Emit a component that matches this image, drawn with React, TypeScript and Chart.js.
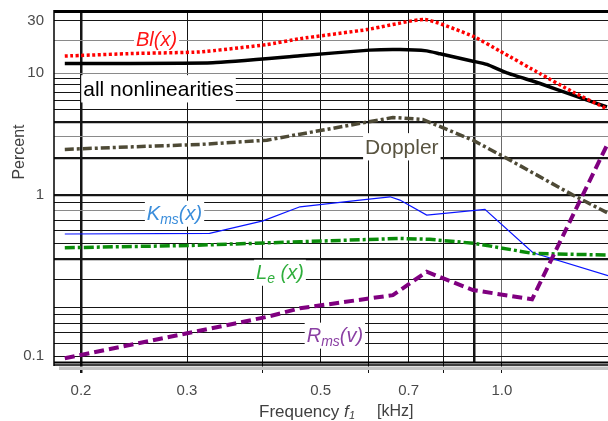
import React, { useEffect, useRef } from 'react';
import { Chart, registerables, LogarithmicScale } from 'chart.js';

// ---------------- data ----------------
const X_GRID_VALUES = [0.2, 0.3, 0.4, 0.5, 0.6, 0.7, 0.8, 0.9, 1.0];
const X_TICK_LABELS = ['0.2', '0.3', '0.5', '0.7', '1.0'];
const Y_GRID_VALUES = [0.1, 0.12, 0.14, 0.16, 0.18, 0.2, 0.3, 0.4, 0.5, 0.6, 0.7, 0.8, 0.9,
  1, 2, 3, 4, 5, 6, 7, 8, 9, 10, 20, 30];
const Y_TICK_LABELS = ['0.1', '1', '10', '30'];

// Bl(x)
const BL_FREQ = [0.188, 0.244, 0.315, 0.407, 0.462, 0.597, 0.745, 0.895, 0.992, 1.157, 1.312, 1.494];
const BL_PCT = [14.3, 15.1, 15.6, 18.2, 20.6, 24.9, 30.8, 21.7, 15.9, 9.9, 7.0, 5.1];
// all nonlinearities
const ALL_FREQ = [0.188, 0.331, 0.462, 0.603, 0.677, 0.750, 0.789, 0.895, 0.944, 1.019, 1.157, 1.312, 1.494];
const ALL_PCT = [12.25, 12.46, 14.4, 16.2, 16.4, 15.95, 15.0, 12.85, 12.0, 10.06, 8.23, 6.6, 5.29];
// Doppler
const DOP_FREQ = [0.188, 0.244, 0.315, 0.407, 0.462, 0.659, 0.739, 0.895, 1.019, 1.312, 1.5];
const DOP_PCT = [2.37, 2.49, 2.60, 2.82, 3.16, 4.33, 4.17, 2.82, 2.0, 1.0, 0.773];
// Kms(x)
const KMS_FREQ = [0.188, 0.327, 0.401, 0.462, 0.581, 0.652, 0.677, 0.750, 0.937, 1.126, 1.5];
const KMS_PCT = [0.573, 0.578, 0.692, 0.846, 0.931, 0.976, 0.931, 0.751, 0.815, 0.438, 0.316];
// Le(x)
const LE_FREQ = [0.188, 0.301, 0.462, 0.677, 0.759, 0.902, 1.126, 1.5];
const LE_PCT = [0.471, 0.486, 0.513, 0.538, 0.531, 0.501, 0.434, 0.424];
// Rms(v)
const RMS_FREQ = [0.188, 0.407, 0.462, 0.659, 0.750, 0.895, 1.122, 1.5];
const RMS_PCT = [0.0968, 0.175, 0.198, 0.239, 0.334, 0.257, 0.225, 2.67];

// ---------------- axis ranges ----------------
const X_MIN = 0.1804;
const X_MAX = 1.5;
const Y_MIN = 0.0905;
const Y_MAX = 36;

// The reference's percent axis has unequal decade heights; pixels per decade per band.
const Y_BAND_EDGES = [Math.log10(Y_MIN), 0, 1, Math.log10(Y_MAX)];
const Y_BAND_RATES = [161, 122, 110];
const Y_BAND_LENS = Y_BAND_RATES.map((r, i) => r * (Y_BAND_EDGES[i + 1] - Y_BAND_EDGES[i]));
const Y_TOTAL = Y_BAND_LENS.reduce((a, b) => a + b, 0);

function logToDecimal(l: number): number {
  let acc = 0;
  for (let i = 0; i < 3; i++) {
    const lo = Y_BAND_EDGES[i];
    const hi = Y_BAND_EDGES[i + 1];
    if (l <= hi || i === 2) return (acc + (l - lo) * Y_BAND_RATES[i]) / Y_TOTAL;
    acc += Y_BAND_LENS[i];
  }
  return 0;
}
function decimalToLog(d: number): number {
  let t = d * Y_TOTAL;
  for (let i = 0; i < 3; i++) {
    if (t <= Y_BAND_LENS[i] || i === 2) return Y_BAND_EDGES[i] + t / Y_BAND_RATES[i];
    t -= Y_BAND_LENS[i];
  }
  return 0;
}

class WarpLogScale extends LogarithmicScale {
  static id = 'warpLog';
  getPixelForValue(value: any) {
    if (value === null || value === undefined || isNaN(value) || value <= 0) return NaN;
    return (this as any).getPixelForDecimal(logToDecimal(Math.log10(value)));
  }
  getValueForPixel(pixel: number) {
    return Math.pow(10, decimalToLog((this as any).getDecimalForPixel(pixel)));
  }
}

Chart.register(...registerables, WarpLogScale as any);

const FONT = '"Liberation Sans", Arial, Helvetica, sans-serif';

type Part = { t: string; i?: boolean; sub?: boolean };

function drawRich(ctx: CanvasRenderingContext2D, parts: Part[], cx: number, cy: number,
  size: number, color: string, bg: boolean) {
  const fontFor = (p: Part) =>
    `${p.i ? 'italic ' : ''}${p.sub ? Math.round(size * 0.68) : size}px ${FONT}`;
  const widths = parts.map((p) => { ctx.font = fontFor(p); return ctx.measureText(p.t).width; });
  const total = widths.reduce((a, b) => a + b, 0);
  if (bg) {
    ctx.fillStyle = '#ffffff';
    ctx.fillRect(cx - total / 2 - 2, cy - size * 0.62, total + 4, size * 1.3);
  }
  let x = cx - total / 2;
  const base = cy + size * 0.36;
  ctx.textAlign = 'left';
  ctx.textBaseline = 'alphabetic';
  parts.forEach((p, k) => {
    ctx.font = fontFor(p);
    ctx.fillStyle = color;
    ctx.fillText(p.t, x, p.sub ? base + size * 0.2 : base);
    x += widths[k];
  });
}

const NOTES: { parts: Part[]; f: number; v: number; color: string; size: number }[] = [
  { parts: [{ t: 'Bl(x)', i: true }], f: 0.267, v: 20.4, color: '#ff1414', size: 20 },
  { parts: [{ t: 'all nonlinearities' }], f: 0.269, v: 7.53, color: '#000000', size: 21 },
  { parts: [{ t: 'Doppler' }], f: 0.682, v: 2.52, color: '#595440', size: 21 },
  { parts: [{ t: 'K', i: true }, { t: 'ms', i: true, sub: true }, { t: '(x)', i: true }], f: 0.286, v: 0.773, color: '#3a8ddb', size: 20 },
  { parts: [{ t: 'L', i: true }, { t: 'e', i: true, sub: true }, { t: ' (x)', i: true }], f: 0.428, v: 0.332, color: '#2fae3c', size: 20 },
  { parts: [{ t: 'R', i: true }, { t: 'ms', i: true, sub: true }, { t: '(v)', i: true }], f: 0.528, v: 0.135, color: '#8a3fa3', size: 20 },
];

const decorPlugin = {
  id: 'decor',
  beforeDatasetsDraw(chart: any) {
    const { ctx, scales } = chart;
    ctx.save();
    NOTES.forEach((n) => {
      const cx = scales.x.getPixelForValue(n.f);
      const cy = scales.y.getPixelForValue(n.v);
      drawRich(ctx, n.parts, cx, cy, n.size, n.color, true);
    });
    ctx.restore();
  },
  afterDraw(chart: any) {
    const { ctx, chartArea: a } = chart;
    ctx.save();
    // drop shadow below the frame
    ctx.fillStyle = '#c4c4c4';
    ctx.fillRect(a.left + 5, a.bottom + 3.5, a.right - a.left, 3.5);
    ctx.strokeStyle = '#000';
    // top border
    ctx.lineWidth = 3;
    ctx.beginPath(); ctx.moveTo(a.left, a.top - 0.5); ctx.lineTo(a.right, a.top - 0.5); ctx.stroke();
    // bottom border (double)
    ctx.lineWidth = 2;
    ctx.beginPath(); ctx.moveTo(a.left, a.bottom - 0.5); ctx.lineTo(a.right, a.bottom - 0.5); ctx.stroke();
    ctx.lineWidth = 1.5;
    ctx.beginPath(); ctx.moveTo(a.left, a.bottom + 2); ctx.lineTo(a.right, a.bottom + 2); ctx.stroke();
    // left border
    ctx.lineWidth = 1.5;
    ctx.beginPath(); ctx.moveTo(a.left, a.top - 2); ctx.lineTo(a.left, a.bottom + 3); ctx.stroke();

    // y title
    ctx.fillStyle = '#404040';
    ctx.font = `16px ${FONT}`;
    ctx.textAlign = 'center';
    ctx.textBaseline = 'middle';
    ctx.translate(20, 152);
    ctx.rotate(-Math.PI / 2);
    ctx.fillText('Percent', 0, 0);
    ctx.setTransform(1, 0, 0, 1, 0, 0);

    // x title: Frequency f1 [kHz]
    const cx = (a.left + a.right) / 2;
    const ty = 412;
    ctx.textAlign = 'left';
    ctx.textBaseline = 'middle';
    ctx.font = `17px ${FONT}`;
    ctx.fillText('Frequency', cx - 72, ty);
    ctx.font = `italic 17px ${FONT}`;
    ctx.fillText('f', cx + 13, ty);
    ctx.font = `italic 11px ${FONT}`;
    ctx.fillText('1', cx + 18, ty + 4);
    ctx.font = `16px ${FONT}`;
    ctx.fillText('[kHz]', cx + 46, ty);
    ctx.restore();
  },
};

function mk(freq: number[], pct: number[]) {
  return freq.map((f, i) => ({ x: f, y: pct[i] }));
}

export default function App() {
  const ref = useRef<HTMLCanvasElement | null>(null);
  useEffect(() => {
    if (!ref.current) return;
    const chart = new Chart(ref.current, {
      type: 'line',
      data: {
        datasets: [
          { label: 'Rms(v)', data: mk(RMS_FREQ, RMS_PCT), borderColor: '#800080', borderWidth: 4, borderDash: [10, 5], pointRadius: 0, tension: 0 },
          { label: 'Bl(x)', data: mk(BL_FREQ, BL_PCT), borderColor: '#ff0000', borderWidth: 3.5, borderDash: [3, 2.5], pointRadius: 0, tension: 0.15 },
          { label: 'all nonlinearities', data: mk(ALL_FREQ, ALL_PCT), borderColor: '#000000', borderWidth: 3.5, pointRadius: 0, tension: 0.15 },
          { label: 'Doppler', data: mk(DOP_FREQ, DOP_PCT), borderColor: '#4e4a36', borderWidth: 3.5, borderDash: [9, 3, 3, 3], pointRadius: 0, tension: 0 },
          { label: 'Le(x)', data: mk(LE_FREQ, LE_PCT), borderColor: '#0a8c0a', borderWidth: 3.5, borderDash: [10, 3, 3, 3], pointRadius: 0, tension: 0 },
          { label: 'Kms(x)', data: mk(KMS_FREQ, KMS_PCT), borderColor: '#0a14ff', borderWidth: 1.2, pointRadius: 0, tension: 0 },
        ],
      },
      options: {
        animation: false,
        responsive: false,
        devicePixelRatio: 1,
        layout: { padding: { top: 12, right: 0, left: 0, bottom: 0 } },
        plugins: { legend: { display: false }, tooltip: { enabled: false }, title: { display: false } },
        scales: {
          x: {
            type: 'logarithmic',
            min: X_MIN,
            max: X_MAX,
            afterBuildTicks: (s: any) => { s.ticks = X_GRID_VALUES.map((v) => ({ value: v })); },
            afterFit: (s: any) => { s.height = 58; s.paddingLeft = 0; s.paddingRight = 0; },
            border: { display: false },
            grid: {
              color: (c: any) => (c.tick && c.tick.value === 1.0 ? '#6a6a6a' : '#151515'),
              lineWidth: (c: any) => (c.tick && (c.tick.value === 0.2 || c.tick.value === 0.9) ? 2.5 : 1),
              drawTicks: true,
              tickLength: 10,
              tickColor: (c: any) => {
                const v = c.tick ? c.tick.value : 0;
                return [0.2, 0.4, 0.6, 0.8, 1.0].includes(v) ? '#151515' : 'rgba(0,0,0,0)';
              },
              tickWidth: (c: any) => (c.tick && c.tick.value === 0.2 ? 2.5 : 1),
            },
            ticks: {
              autoSkip: false,
              maxRotation: 0,
              padding: 9,
              color: '#4a4a4a',
              font: { family: FONT, size: 15 },
              callback: (v: any) => {
                const lab = X_TICK_LABELS.find((l) => parseFloat(l) === Number(v));
                return lab === undefined ? '' : lab;
              },
            },
          },
          y: {
            type: 'warpLog' as any,
            min: Y_MIN,
            max: Y_MAX,
            afterBuildTicks: (s: any) => { s.ticks = Y_GRID_VALUES.map((v) => ({ value: v })); },
            afterFit: (s: any) => { s.width = 54; s.paddingTop = 0; s.paddingBottom = 0; },
            border: { display: false },
            grid: {
              drawTicks: false,
              color: (c: any) => {
                const v = c.tick ? c.tick.value : 0;
                return [20, 10, 3, 0.8].includes(v) ? '#8a8a8a' : '#151515';
              },
              lineWidth: (c: any) => {
                const v = c.tick ? c.tick.value : 0;
                return [4, 2, 1, 0.4].includes(v) ? 2.2 : 1;
              },
            },
            ticks: {
              autoSkip: false,
              padding: 10,
              color: '#4a4a4a',
              font: { family: FONT, size: 15 },
              callback: (v: any) => {
                const lab = Y_TICK_LABELS.find((l) => parseFloat(l) === Number(v));
                return lab === undefined ? '' : lab;
              },
            },
          },
        },
      } as any,
      plugins: [decorPlugin],
    });
    return () => chart.destroy();
  }, []);
  return (
    <div style={{ position: 'fixed', left: 0, top: 0, width: 608, height: 421, background: '#fff' }}>
      <canvas ref={ref} width={608} height={421} style={{ display: 'block' }} />
    </div>
  );
}
